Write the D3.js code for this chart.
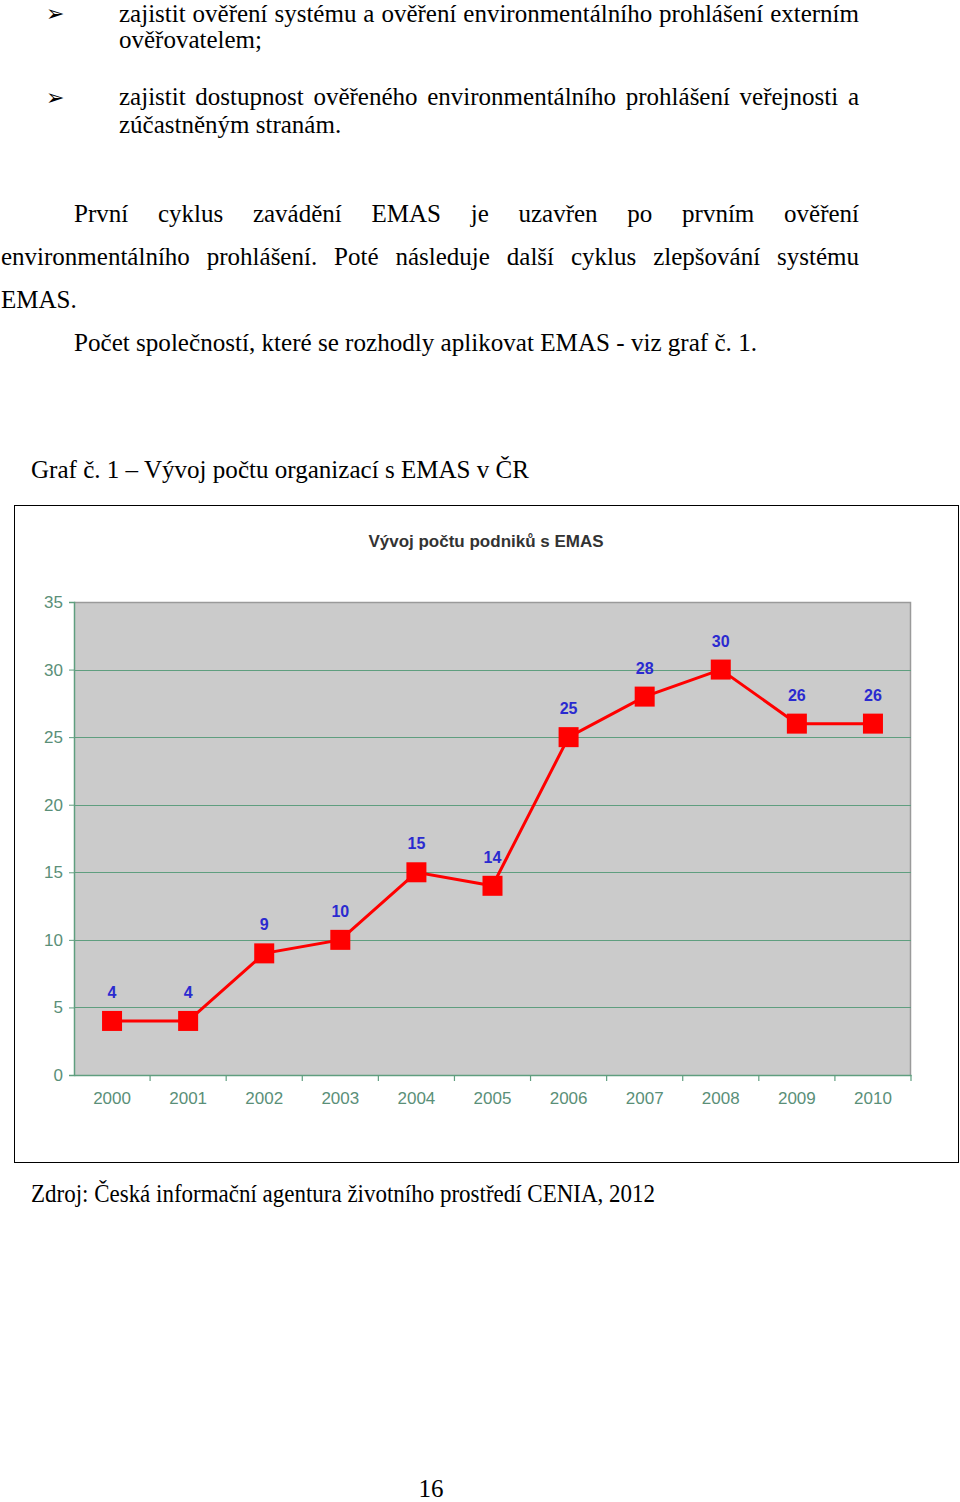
<!DOCTYPE html>
<html><head><meta charset="utf-8">
<script src="https://cdn.jsdelivr.net/npm/d3@7"></script>
<style>html,body{margin:0;padding:0;background:#fff;}svg{display:block;}</style>
</head><body>
<svg id="page" width="960" height="1502"></svg>
<script>
const years = ["2000","2001","2002","2003","2004","2005","2006","2007","2008","2009","2010"];
const counts = [4,4,9,10,15,14,25,28,30,26,26];
const yTicks = [0,5,10,15,20,25,30,35];
const chartTitle = "Vývoj počtu podniků s EMAS";

const svg = d3.select("#page");
const serif = "'Liberation Serif','Times New Roman',serif";
const sans = "'Liberation Sans',Arial,sans-serif";
const FS = 25;

function justify(str, x0, x1, y){
  const words = str.split(" ");
  const g = svg.append("g");
  const nodes = words.map(w => g.append("text").attr("y", y).attr("font-family", serif).attr("font-size", FS).attr("fill","#000").text(w));
  const widths = nodes.map(n => n.node().getComputedTextLength());
  const total = d3.sum(widths);
  const gap = (x1 - x0 - total) / (words.length - 1);
  let x = x0;
  nodes.forEach((n,i)=>{ n.attr("x", x); x += widths[i] + gap; });
}
function plain(str, x, y, opts={}){
  const t = svg.append("text").attr("x", x).attr("y", y).attr("font-family", serif).attr("font-size", opts.size||FS).attr("fill","#000").text(str);
  if (opts.len) t.attr("textLength", opts.len).attr("lengthAdjust","spacingAndGlyphs");
  if (opts.anchor) t.attr("text-anchor", opts.anchor);
  return t;
}

// bullets
[21, 105].forEach(by => {
  svg.append("text").attr("x", 46).attr("y", by).attr("font-family", "'DejaVu Sans',sans-serif").attr("font-size", 22).text("➢");
});
justify("zajistit ověření systému a ověření environmentálního prohlášení externím", 119, 859, 22);
plain("ověřovatelem;", 119, 48);
justify("zajistit dostupnost ověřeného environmentálního prohlášení veřejnosti a", 119, 859, 105);
plain("zúčastněným stranám.", 119, 133);
justify("První cyklus zavádění EMAS je uzavřen po prvním ověření", 74, 859, 222);
justify("environmentálního prohlášení. Poté následuje další cyklus zlepšování systému", 1, 859, 265);
plain("EMAS.", 1, 308);
plain("Počet společností, které se rozhodly aplikovat EMAS - viz graf č. 1.", 74, 351, {len: 683});
plain("Graf č. 1 – Vývoj počtu organizací s EMAS v ČR", 31, 478, {len: 498});
plain("Zdroj: Česká informační agentura životního prostředí CENIA, 2012", 31, 1202, {len: 624});
plain("16", 431, 1497, {anchor: "middle"});

// chart frame
svg.append("rect").attr("x", 14.5).attr("y", 505.5).attr("width", 944).attr("height", 657).attr("fill","#fff").attr("stroke","#000").attr("stroke-width",1);

svg.append("text").attr("x", 486).attr("y", 547).attr("text-anchor","middle").attr("font-family", sans).attr("font-weight","bold").attr("font-size", 17).attr("fill","#333").text(chartTitle);

const L = 74, R = 911, T = 602, B = 1075;
const x = d3.scaleBand().domain(years).range([L, R]).padding(0);
const y = d3.scaleLinear().domain([0, 35]).range([B, T]);
const axisGreen = "#5f9e7f";
const labelGreen = "#5a8f78";

svg.append("rect").attr("x", L).attr("y", T).attr("width", R-L).attr("height", B-T).attr("fill","#cbcbcb");
// top & right border
svg.append("path").attr("d", `M${L},${T+0.5}H${R-0.5}V${B}`).attr("fill","none").attr("stroke","#9a9a9a").attr("stroke-width",1.5);

// gridlines
svg.append("g").selectAll("line").data(yTicks.filter(d => d > 0 && d < 35)).join("line")
  .attr("x1", L).attr("x2", R).attr("y1", d => Math.round(y(d))+0.5).attr("y2", d => Math.round(y(d))+0.5)
  .attr("stroke", axisGreen).attr("stroke-width", 1.2);

// y axis
const yAxis = svg.append("g").attr("transform", `translate(${L},0)`).call(d3.axisLeft(y).tickValues(yTicks).tickSize(5).tickPadding(6));
yAxis.select(".domain").attr("stroke", axisGreen).attr("stroke-width",1.5);
yAxis.selectAll(".tick line").attr("stroke", axisGreen);
yAxis.selectAll(".tick text").attr("font-family", sans).attr("font-size", 17).attr("fill", labelGreen);

// x axis
const xAxis = svg.append("g").attr("transform", `translate(0,${B})`).call(d3.axisBottom(x).tickSize(0).tickPadding(17));
xAxis.select(".domain").attr("stroke", axisGreen).attr("stroke-width",1.5);
xAxis.selectAll(".tick text").attr("font-family", sans).attr("font-size", 17).attr("fill", labelGreen);
// boundary ticks
svg.append("g").selectAll("line").data(years.slice(1).concat(["__end"])).join("line")
  .attr("x1", d => d === "__end" ? R : x(d)).attr("x2", d => d === "__end" ? R : x(d))
  .attr("y1", B).attr("y2", B + 6).attr("stroke", axisGreen).attr("stroke-width", 1.2);

const cx = d => x(d) + x.bandwidth()/2;
const pts = years.map((yr,i) => ({yr, v: counts[i]}));

svg.append("path").datum(pts)
  .attr("d", d3.line().x(d => cx(d.yr)).y(d => y(d.v)))
  .attr("fill","none").attr("stroke","#ff0000").attr("stroke-width",3);

svg.append("g").selectAll("rect").data(pts).join("rect")
  .attr("x", d => cx(d.yr) - 10).attr("y", d => y(d.v) - 10).attr("width", 20).attr("height", 20).attr("fill","#ff0000");

svg.append("g").selectAll("text").data(pts).join("text")
  .attr("x", d => cx(d.yr)).attr("y", d => y(d.v) - 23)
  .attr("text-anchor","middle").attr("font-family", sans).attr("font-weight","bold").attr("font-size", 16).attr("fill","#2a2ad0")
  .text(d => d.v);
</script>
</body></html>
